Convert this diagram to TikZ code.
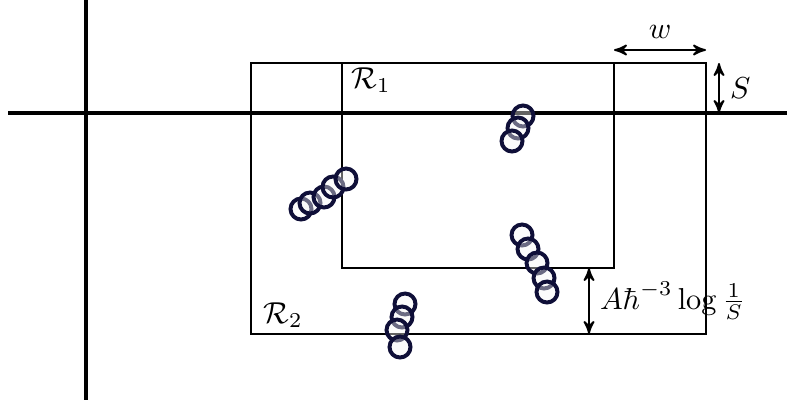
\documentclass[tikz,border=0pt]{standalone}
\usetikzlibrary{arrows}
\usetikzlibrary{positioning}
\definecolor{ringcol}{rgb}{0.06,0.06,0.22}
\begin{document}
\begin{tikzpicture}[x=0.33pt,y=-0.33pt]
      \tikzset{
        axis/.style={line width=1.1pt},
        region/.style={line width=0.5pt},
        dimarrow/.style={<->,>=stealth',line width=0.6pt},
        ring/.style={draw=ringcol,fill=black!4,fill opacity=0.4,line width=1.3pt},
        lbl/.style={inner sep=1pt},
      }
      \useasboundingbox (0,0) rectangle (787,407);
      % axes
      \coordinate (ytop) at (86,0);
      \coordinate (ybot) at (86,400);
      \coordinate (xleft) at (8,113);
      \coordinate (xright) at (787,113);
      \draw[axis] (ytop) -- (ybot);
      \draw[axis] (xleft) -- (xright);

      % regions
      \coordinate (r2nw) at (251,63);
      \coordinate (r2se) at (706,334);
      \coordinate (r1nw) at (342,63);
      \coordinate (r1se) at (614,268);
      \draw[region] (r2nw) rectangle (r2se);
      \draw[region] (r1nw) rectangle (r1se);
      \node[lbl] (r1) at (371,80) {\(\mathcal{R}_1\)};
      \node[lbl] (r2) at (283,315) {\(\mathcal{R}_2\)};

      % widths
      \coordinate (wl) at (614,50);
      \coordinate (wr) at (706,50);
      \draw[dimarrow] (wl) -- (wr) node[midway, above=0pt] (w) {\(w\)};
      \coordinate (st) at (719,63);
      \coordinate (sb) at (719,113);
      \draw[dimarrow] (st) -- (sb) node[midway, right=0pt] (s) {\(S\)};
      \coordinate (at) at (589,268);
      \coordinate (ab) at (589,334);
      \draw[dimarrow] (at) -- (ab) node[midway, right=0pt] (a) {\(A\hbar^{-3}\log\frac{1}{S}\)};

      % particles
      \foreach \x/\y in {523/116, 518/128, 512/141,
                         301/209, 310/203, 324/197, 333/187, 346/179,
                         522/235, 528/249, 537/263, 544/278, 547/292,
                         405/304, 402/317, 397/330, 400/347}
        \draw[ring] (\x,\y) circle (10.5);
    \end{tikzpicture}
\end{document}
